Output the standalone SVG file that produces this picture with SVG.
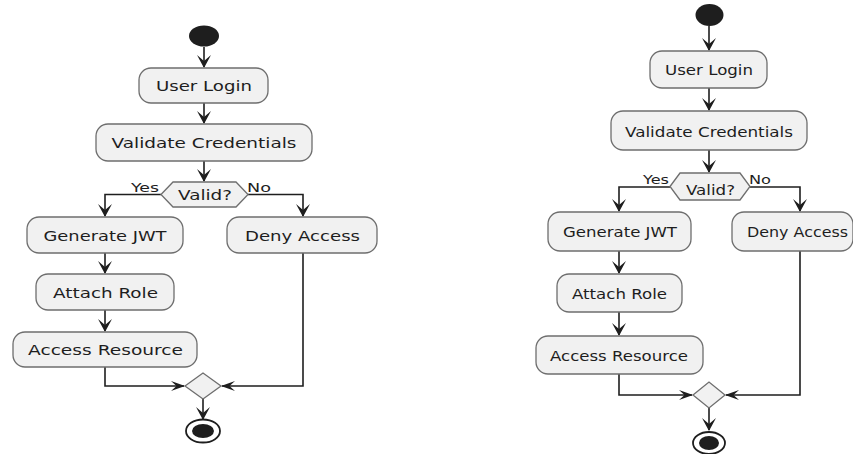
<svg xmlns="http://www.w3.org/2000/svg" width="853" height="454" viewBox="0 0 853 454">
<style>
.box{fill:#f1f1f1;stroke:#6e6e6e;stroke-width:1.3}
.lbl{font-family:"DejaVu Sans",sans-serif;font-size:14.5px;fill:#1e1e1e;text-anchor:middle}
.sm{font-family:"DejaVu Sans",sans-serif;font-size:13px;fill:#1e1e1e}
.ln{fill:none;stroke:#1e1e1e;stroke-width:1.6}
.ah{fill:#1e1e1e}
.dot{fill:#1e1e1e}
.ring{fill:#fff;stroke:#1e1e1e;stroke-width:1.8}
</style>
<defs>
<polygon id="ad" points="0,0 -7,-13 0,-7 7,-13"/>
<polygon id="ar" points="0,0 -14,-5 -8.5,0 -14,5"/>
<polygon id="al" points="0,0 14,-5 8.5,0 14,5"/>
</defs>
<rect width="853" height="454" fill="#fff"/>

<g id="connectors">
<line class="ln" x1="204" y1="47" x2="204" y2="67"/>
<line class="ln" x1="204" y1="103" x2="204" y2="123"/>
<line class="ln" x1="204" y1="161" x2="204" y2="181"/>
<path class="ln" d="M161,194.5 H105 V216"/>
<path class="ln" d="M248,194.5 H303 V216"/>
<line class="ln" x1="105" y1="253" x2="105" y2="273"/>
<line class="ln" x1="105" y1="310" x2="105" y2="331"/>
<path class="ln" d="M105,367 V386 H184"/>
<path class="ln" d="M303,253 V386 H222"/>
<line class="ln" x1="203" y1="399" x2="203" y2="419"/>
<g class="ah">
<use href="#ad" x="204" y="68"/>
<use href="#ad" x="204" y="124"/>
<use href="#ad" x="204" y="182"/>
<use href="#ad" x="105" y="217"/>
<use href="#ad" x="303" y="217"/>
<use href="#ad" x="105" y="274"/>
<use href="#ad" x="105" y="332"/>
<use href="#ar" x="185" y="386"/>
<use href="#al" x="221" y="386"/>
<use href="#ad" x="203" y="420"/>
</g>

<line class="ln" x1="709" y1="26" x2="709" y2="50"/>
<line class="ln" x1="709" y1="88" x2="709" y2="110"/>
<line class="ln" x1="709" y1="150" x2="709" y2="172"/>
<path class="ln" d="M670,187 H619 V211"/>
<path class="ln" d="M750,187 H800 V211"/>
<line class="ln" x1="619" y1="251" x2="619" y2="273"/>
<line class="ln" x1="619" y1="312" x2="619" y2="335"/>
<path class="ln" d="M619,374 V395 H692"/>
<path class="ln" d="M800,251 V395 H726"/>
<line class="ln" x1="709" y1="408" x2="709" y2="430"/>
<g class="ah">
<use href="#ad" x="709" y="51"/>
<use href="#ad" x="709" y="111"/>
<use href="#ad" x="709" y="173"/>
<use href="#ad" x="619" y="212"/>
<use href="#ad" x="800" y="212"/>
<use href="#ad" x="619" y="274"/>
<use href="#ad" x="619" y="336"/>
<use href="#ar" x="693" y="395"/>
<use href="#al" x="725" y="395"/>
<use href="#ad" x="709" y="431"/>
</g>
</g>

<g id="start1"><ellipse class="dot" cx="204" cy="36" rx="15" ry="10.5"/></g>
<g id="userLogin1"><rect class="box" x="139" y="68" width="129" height="35" rx="12"/><text class="lbl" x="204" y="91" textLength="96" lengthAdjust="spacingAndGlyphs">User Login</text></g>
<g id="validate1"><rect class="box" x="96" y="124" width="216" height="37" rx="12"/><text class="lbl" x="204" y="148" textLength="185" lengthAdjust="spacingAndGlyphs">Validate Credentials</text></g>
<g id="valid1"><polygon class="box" points="161,194.5 173,182 236,182 248,194.5 236,207 173,207"/><text class="lbl" x="205" y="199.5" textLength="54" lengthAdjust="spacingAndGlyphs">Valid?</text>
<text class="sm" x="131" y="192" textLength="28" lengthAdjust="spacingAndGlyphs">Yes</text><text class="sm" x="247" y="192" textLength="24" lengthAdjust="spacingAndGlyphs">No</text></g>
<g id="generate1"><rect class="box" x="27" y="217" width="156" height="36" rx="12"/><text class="lbl" x="105" y="241" textLength="123" lengthAdjust="spacingAndGlyphs">Generate JWT</text></g>
<g id="deny1"><rect class="box" x="227" y="217" width="150" height="36" rx="12"/><text class="lbl" x="302.5" y="241" textLength="115" lengthAdjust="spacingAndGlyphs">Deny Access</text></g>
<g id="attach1"><rect class="box" x="36" y="274" width="138" height="36" rx="12"/><text class="lbl" x="105.5" y="297.5" textLength="105" lengthAdjust="spacingAndGlyphs">Attach Role</text></g>
<g id="access1"><rect class="box" x="13" y="332" width="184" height="35" rx="12"/><text class="lbl" x="105.5" y="354.5" textLength="155" lengthAdjust="spacingAndGlyphs">Access Resource</text></g>
<g id="merge1"><polygon class="box" points="185,386 203,373 221,386 203,399"/></g>
<g id="end1"><ellipse class="ring" cx="203" cy="431" rx="17" ry="11.5"/><ellipse class="dot" cx="203" cy="431" rx="11" ry="7"/></g>

<g id="start2"><ellipse class="dot" cx="709.5" cy="15" rx="14" ry="11"/></g>
<g id="userLogin2"><rect class="box" x="650" y="51" width="117" height="37" rx="12"/><text class="lbl" x="709" y="74.5" textLength="88" lengthAdjust="spacingAndGlyphs">User Login</text></g>
<g id="validate2"><rect class="box" x="611" y="111" width="196" height="39" rx="12"/><text class="lbl" x="709" y="137" textLength="168" lengthAdjust="spacingAndGlyphs">Validate Credentials</text></g>
<g id="valid2"><polygon class="box" points="670,186.5 680,173 740,173 750,186.5 740,200 680,200"/><text class="lbl" x="710.5" y="195" textLength="49" lengthAdjust="spacingAndGlyphs">Valid?</text>
<text class="sm" x="643" y="184" textLength="26" lengthAdjust="spacingAndGlyphs">Yes</text><text class="sm" x="749" y="184" textLength="22" lengthAdjust="spacingAndGlyphs">No</text></g>
<g id="generate2"><rect class="box" x="548" y="212" width="143" height="39" rx="12"/><text class="lbl" x="620" y="236.5" textLength="114" lengthAdjust="spacingAndGlyphs">Generate JWT</text></g>
<g id="deny2"><rect class="box" x="732" y="212" width="121" height="39" rx="12"/><text class="lbl" x="797.5" y="236.5" textLength="101" lengthAdjust="spacingAndGlyphs">Deny Access</text></g>
<g id="attach2"><rect class="box" x="557" y="274" width="125" height="38" rx="12"/><text class="lbl" x="619.5" y="299" textLength="95" lengthAdjust="spacingAndGlyphs">Attach Role</text></g>
<g id="access2"><rect class="box" x="536" y="336" width="167" height="38" rx="12"/><text class="lbl" x="619" y="361" textLength="138" lengthAdjust="spacingAndGlyphs">Access Resource</text></g>
<g id="merge2"><polygon class="box" points="693,395 709,382 725,395 709,408"/></g>
<g id="end2"><ellipse class="ring" cx="709" cy="443" rx="16" ry="11"/><ellipse class="dot" cx="709" cy="443" rx="10" ry="7"/></g>
</svg>
